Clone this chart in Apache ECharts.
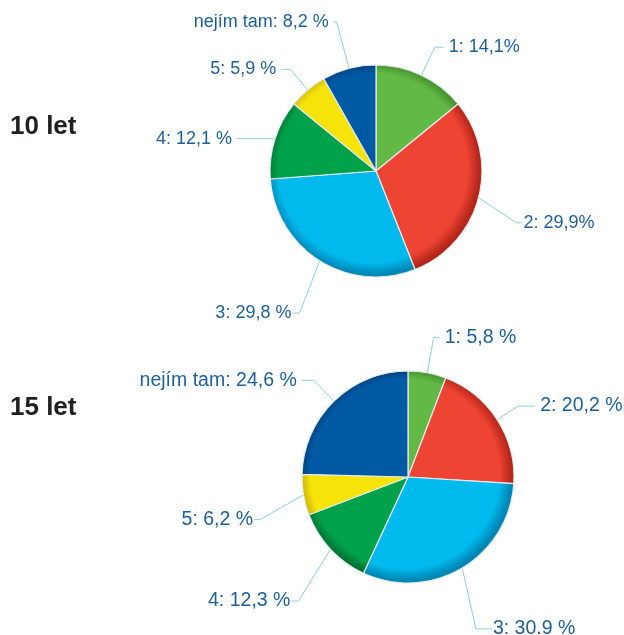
<!DOCTYPE html>
<html>
<head>
<meta charset="utf-8">
<script src="https://cdn.jsdelivr.net/npm/echarts@6/dist/echarts.min.js"></script>
<style>
html,body{margin:0;padding:0;background:#fff;}
#chart{width:624px;height:635px;}
</style>
</head>
<body>
<div id="chart"></div>
<script>
// ---- data ----
const categories = ['1', '2', '3', '4', '5', 'nejím tam'];
const values10 = [14.1, 29.9, 29.8, 12.1, 5.9, 8.2];
const values15 = [5.8, 20.2, 30.9, 12.3, 6.2, 24.6];
const labels10 = ['1: 14,1%', '2: 29,9%', '3: 29,8 %', '4: 12,1 %', '5: 5,9 %', 'nejím tam: 8,2 %'];
const labels15 = ['1: 5,8 %', '2: 20,2 %', '3: 30.9 %', '4: 12,3 %', '5: 6,2 %', 'nejím tam: 24,6 %'];
const groupTitles = ['10 let', '15 let'];

// ---- style ----
const colors = ['#63b946', '#ee4433', '#00baed', '#00a14b', '#f6e30a', '#0059a3'];
const dark = ['#3f8a2a', '#b4251a', '#0086b5', '#006b30', '#c2a800', '#003a72'];
// label line [length, length2] per slice
const lineLen10 = [[31, 9], [36, 5], [44, 3], [2, 36], [27, 9], [48, 3]];
const lineLen15 = [[36, 6], [25, 17], [58, 1], [48, 3], [40, 6], [29, 12]];
// label nudges [dx, dy, horizontal segment] (null = library default)
const adj10 = [null, [0, 16, 6], [3, 15, 7], null, null, null];
const adj15 = [null, null, [-5, 11, 16], [3, 19, 7], [0, 18, 6], null];
const R = 106;
const C10 = [376, 171];
const C15 = [408, 477];

function fill(i, c) {
  return {
    type: 'radial', x: c[0] - 3, y: c[1] - 3, r: R + 4, global: true,
    colorStops: [
      { offset: 0, color: colors[i] },
      { offset: 0.86, color: colors[i] },
      { offset: 0.97, color: dark[i] },
      { offset: 1, color: dark[i] }
    ]
  };
}

function makeSeries(values, labels, lens, adj, center, fontSize) {
  return {
    type: 'pie',
    center: center,
    radius: R,
    startAngle: 90,
    clockwise: true,
    animation: false,
    silent: true,
    avoidLabelOverlap: false,
    itemStyle: { borderColor: '#e4ecec', borderWidth: 1.2 },
    label: {
      show: true,
      position: 'outside',
      formatter: p => labels[p.dataIndex],
      color: '#1d5f9b',
      fontFamily: 'Liberation Sans, Arial, sans-serif',
      fontSize: fontSize,
      padding: [0, 4],
      distanceToLabelLine: 1
    },
    labelLine: {
      show: true,
      lineStyle: { color: '#8fd0da', width: 1 }
    },
    labelLayout: function (p) {
      const a = adj[p.dataIndex];
      if (!a) return {};
      const r = p.labelRect;
      const pts = p.labelLinePoints;
      const right = (r.x + r.width / 2) > center[0];
      const y = r.y + r.height / 2 + a[1];
      const x = right ? r.x + a[0] - 4 : r.x + r.width + a[0] + 4;
      const ex = right ? x + 3 : x - 3;
      const hx = right ? ex - a[2] : ex + a[2];
      const out = { x: x, y: y };
      if (pts && pts.length) {
        out.labelLinePoints = [pts[0], [hx, y], [ex, y]];
      }
      return out;
    },
    data: values.map((v, i) => ({
      name: categories[i],
      value: v,
      itemStyle: { color: fill(i, center) },
      labelLine: { length: lens[i][0], length2: lens[i][1] }
    }))
  };
}

const chart = echarts.init(document.getElementById('chart'), null, { renderer: 'canvas' });
chart.setOption({
  backgroundColor: '#ffffff',
  animation: false,
  graphic: [
    { type: 'text', left: 10, top: 114, style: { text: groupTitles[0], font: 'bold 26px "Liberation Sans", Arial, sans-serif', fill: '#231f20' } },
    { type: 'text', left: 10, top: 395, style: { text: groupTitles[1], font: 'bold 26px "Liberation Sans", Arial, sans-serif', fill: '#231f20' } }
  ],
  series: [
    makeSeries(values10, labels10, lineLen10, adj10, C10, 18),
    makeSeries(values15, labels15, lineLen15, adj15, C15, 19.5)
  ]
});
</script>
</body>
</html>
